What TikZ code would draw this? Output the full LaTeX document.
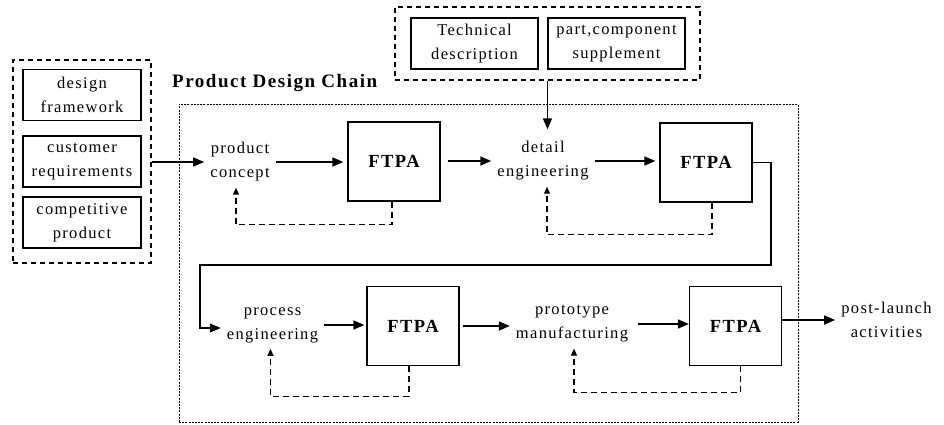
\documentclass[tikz,border=0pt]{standalone}
\usepackage{fontspec}
\setmainfont{Liberation Serif}[LetterSpace=8]
\usetikzlibrary{arrows.meta}
\begin{document}
\begin{tikzpicture}[x=1pt,y=-1pt,
 txt/.style={align=center,font=\fontsize{16.5}{24}\selectfont,inner sep=6pt},
 ftpa/.style={draw,line width=1.2pt,minimum width=92pt,minimum height=79pt,inner sep=0pt,font=\bfseries\fontsize{18.5}{24}\selectfont},
 srcbox/.style={draw,line width=1.2pt,inner sep=0pt,align=center,font=\fontsize{16.5}{24}\selectfont,minimum height=51pt},
 grp/.style={draw,dash pattern=on 5pt off 4pt,line width=1.2pt,inner sep=0pt},
 chain/.style={draw,line width=0.8pt,dash pattern=on 2pt off 1.2pt,inner sep=0pt},
 arr/.style={line width=1.6pt,-{Triangle[length=11pt,width=9pt]}},
 fb/.style={line width=1.2pt,dash pattern=on 6pt off 4pt,-{Triangle[length=7pt,width=6pt]}},
 lnk/.style={line width=1.2pt,-{Triangle[length=11pt,width=9pt]}}]
\useasboundingbox (0,0) rectangle (944,425);
% groups
\node[chain,minimum width=619pt,minimum height=318pt] (chainbox) at (488.5,263) {};
\node[grp,minimum width=138pt,minimum height=203pt] (lgrp) at (82,161.5) {};
\node[srcbox,minimum width=118pt] (s1) at (82,95) {design\\framework};
\node[srcbox,minimum width=118pt] (s2) at (82,161.5) {customer\\requirements};
\node[srcbox,minimum width=118pt] (s3) at (82,222.5) {competitive\\product};
\node[grp,minimum width=305pt,minimum height=73pt] (tgrp) at (547.5,43.5) {};
\node[srcbox,minimum width=127pt] (t1) at (474.5,43.5) {Technical\\description};
\node[srcbox,minimum width=137pt] (t2) at (616.5,43.5) {part,component\\supplement};
\node[anchor=base west,inner sep=0pt,font=\bfseries\fontsize{19}{24}\selectfont] (title) at (172,87.5) {Product Design Chain};
% stages
\node[txt] (pc) at (240,162) {product\\concept};
\node[txt] (de) at (543,161) {detail\\engineering};
\node[txt] (pe) at (272.5,325) {process\\engineering};
\node[txt] (pm) at (572,324) {prototype\\manufacturing};
\node[txt] (pl) at (886.5,320) {post-launch\\activities};
\node[ftpa] (f1) at (394,161.5) {FTPA};
\node[ftpa] (f2) at (706,162.5) {FTPA};
\node[ftpa] (f3) at (413,326) {FTPA};
\node[ftpa] (f4) at (735.5,326) {FTPA};
\coordinate (c1) at (771,265);
\coordinate (c2) at (200,265);
% connectors
\draw[arr] (lgrp.east |- pc.west) -- (pc.west);
\draw[arr,shorten >=4pt] (pc.east) -- (pc.east -| f1.west);
\draw[arr,shorten <=7pt] (f1.east |- de.west) -- (de.west);
\draw[arr,shorten >=4pt] (de.east) -- (de.east -| f2.west);
\draw[arr,shorten >=6pt] (tgrp.south) -- (tgrp.south |- de.north);
\draw[lnk] (f2.east) -| (c1) -- (c2) |- ([yshift=-3pt]pe.west);
\draw[arr,shorten >=2pt] (pe.east) -- (pe.east -| f3.west);
\draw[arr,shorten <=3pt] (f3.east) -- (f3.east -| pm.west);
\draw[arr,shorten <=4pt] (pm.east) -- (pm.east -| f4.west);
\draw[arr] (f4.east |- pl.west) -- (pl.west);
% feedback
\draw[fb] ([xshift=-2pt]f1.south) -- ++(0,23) -| ([xshift=-4pt]pc.south);
\draw[fb] ([xshift=6pt]f2.south) -- ++(0,32) -| ([xshift=4pt]de.south);
\draw[fb] ([xshift=-4pt]f3.south) -- ++(0,30) -| ([xshift=-2pt]pe.south);
\draw[fb] ([xshift=5pt]f4.south) -- ++(0,26) -| ([xshift=2pt]pm.south);
\end{tikzpicture}
\end{document}
